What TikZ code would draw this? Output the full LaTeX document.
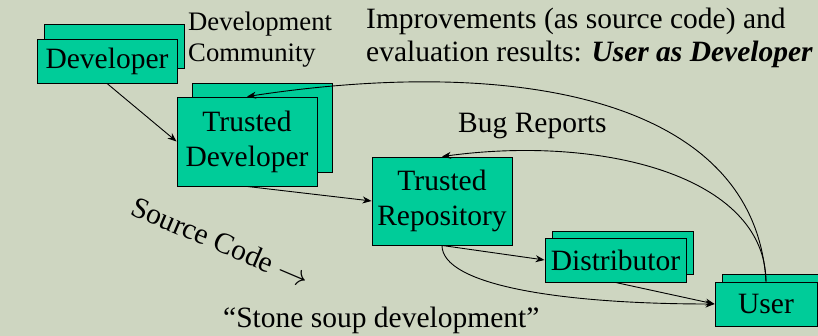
\documentclass[tikz,border=0pt]{standalone}
\usepackage{fontspec}
\setmainfont{Liberation Serif}
\usetikzlibrary{arrows.meta}
\definecolor{bg}{RGB}{206,214,193}
\definecolor{boxg}{RGB}{0,204,153}
\begin{document}
\begin{tikzpicture}[x=1pt,y=-1pt,
  box/.style={draw=black, line width=0.9pt, fill=boxg, inner sep=0pt,
    font=\fontsize{29.5}{35}\selectfont, align=center},
  lbl/.style={inner sep=0pt, font=\fontsize{29.5}{35}\selectfont},
  small/.style={inner sep=0pt, font=\fontsize{26.7}{31}\selectfont},
  conn/.style={line width=0.9pt, -{Stealth[length=9pt,width=7pt]}}]
\useasboundingbox (0,0) rectangle (818,336);
\clip (0,0) rectangle (818,336);
\fill[bg] (0,0) rectangle (818,336);
% boxes
\node[box, minimum width=140pt, minimum height=44pt] (devB) at (114,46) {};
\node[box, minimum width=140pt, minimum height=44pt] (dev) at (107,61) {Developer};
\node[box, minimum width=140pt, minimum height=89pt] (tdB) at (262,127.5) {};
\node[box, minimum width=140pt, minimum height=89pt] (td) at (247,141.5) {Trusted\\Developer};
\node[box, minimum width=140pt, minimum height=88pt] (tr) at (442,201) {Trusted\\Repository};
\node[box, minimum width=141pt, minimum height=43pt] (distB) at (622.5,252.5) {};
\node[box, minimum width=141pt, minimum height=44pt] (dist) at (615.5,260) {Distributor};
\node[box, minimum width=102pt, minimum height=44pt] (userB) at (773,296) {};
\node[box, minimum width=102pt, minimum height=44pt] (user) at (766,304) {User};
% texts
\node[small, anchor=base west] (dc1) at (188,31) {Development};
\node[small, anchor=base west] (dc2) at (188,62) {Community};
\node[lbl, anchor=base west] (imp1) at (366,29) {Improvements (as source code) and};
\node[lbl, anchor=base west] (imp2) at (366,62) {evaluation results: \textbf{\textit{User as Developer}}};
\node[lbl, anchor=base west] (bug) at (458,133) {Bug Reports};
\node[lbl, anchor=base west] (soup) at (223,327) {“Stone soup development”};
\node[lbl, anchor=base west, rotate=-23] (src) at (129,214) {Source Code \scalebox{1.25}{$\rightarrow$}};
% connectors
\draw[conn] (dev.south) -- (td.west);
\draw[conn] (td.south) -- (tr.west);
\draw[conn] (tr.south) -- (dist.west);
\draw[conn] (tr.south) .. controls (442,285) and (560,304) .. (user.west);
\draw[conn] (dist.south) -- (user.west);
\draw[conn] (user.north) .. controls (765,175) and (600,135) .. (tr.north);
\draw[conn] (user.north) .. controls (755,100) and (520,55) .. (td.north);
\end{tikzpicture}
\end{document}
